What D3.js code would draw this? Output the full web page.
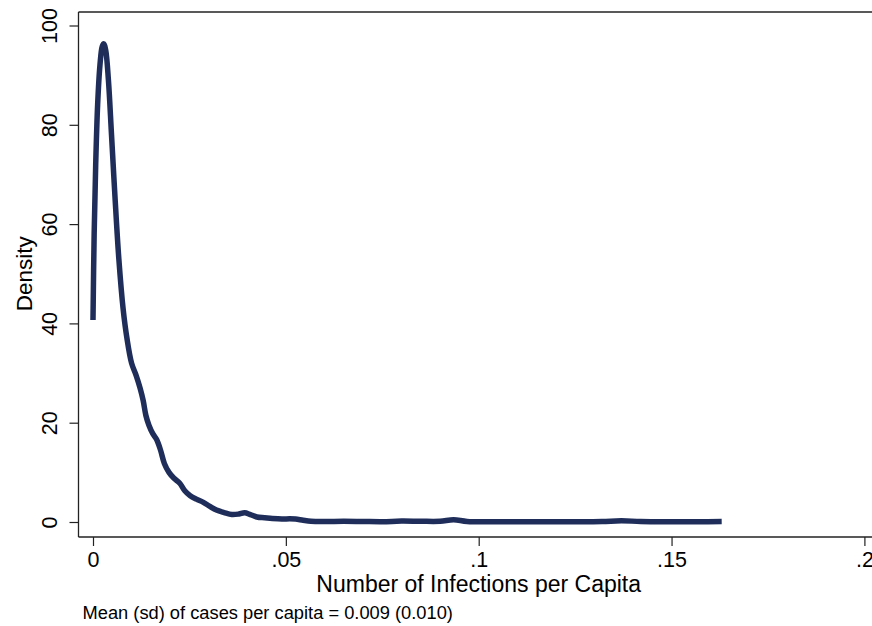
<!DOCTYPE html>
<html>
<head>
<meta charset="utf-8">
<script src="https://d3js.org/d3.v7.min.js"></script>
<style>
  body { margin: 0; background: #fff; }
  svg { display: block; font-family: "Liberation Sans", Arial, sans-serif; }
</style>
</head>
<body>
<script>
// kernel density of infections per capita
const perCapita = [0, 0.0003, 0.0007, 0.0012, 0.0018, 0.0024, 0.0028, 0.0033, 0.0040, 0.0048,
  0.0057, 0.0067, 0.0078, 0.0088, 0.0100, 0.0112, 0.0122, 0.0130, 0.0137, 0.0145,
  0.0155, 0.0165, 0.0175, 0.0185, 0.0197, 0.0210, 0.0225, 0.0238, 0.0252, 0.0268,
  0.0285, 0.0302, 0.0320, 0.0340, 0.0360, 0.0378, 0.0393, 0.0408, 0.0425, 0.0445,
  0.0465, 0.0490, 0.0510, 0.0525, 0.0545, 0.0565, 0.060, 0.065, 0.070, 0.075,
  0.080, 0.085, 0.090, 0.0935, 0.097, 0.105, 0.115, 0.125, 0.132, 0.137,
  0.142, 0.150, 0.157, 0.163];
const density = [40.7, 58, 72, 84, 92, 95.8, 96.3, 95, 89, 78,
  65.5, 53, 43, 37, 32, 29.5, 27, 24.5, 21.5, 19.5,
  17.8, 16.6, 14.5, 11.8, 10.0, 8.8, 7.8, 6.3, 5.3, 4.6,
  4.0, 3.2, 2.4, 1.9, 1.5, 1.6, 1.85, 1.5, 1.0, 0.85,
  0.7, 0.6, 0.65, 0.6, 0.35, 0.15, 0.1, 0.15, 0.1, 0.05,
  0.2, 0.15, 0.15, 0.45, 0.1, 0.05, 0.05, 0.05, 0.1, 0.25,
  0.1, 0.05, 0.05, 0.1];

const xTicks = [0, 0.05, 0.1, 0.15, 0.2];
const yTicks = [0, 20, 40, 60, 80, 100];

const xTitle = "Number of Infections per Capita";
const yTitle = "Density";
const note = "Mean (sd) of cases per capita = 0.009 (0.010)";

let w = 872;
let h = 626;

// plot frame
let frameLeft = 78.5, frameTop = 12, frameBottom = 537;

let x = d3.scaleLinear()
          .domain([0, 0.2])
          .range([93, 864.4]);

let y = d3.scaleLinear()
          .domain([0, 100])
          .range([522, 25.5]);

let svg = d3.select("body")
            .append("svg")
            .attr("width", w)
            .attr("height", h);

//frame lines (no right border in the figure)
svg.append("line")
   .attr("x1", frameLeft).attr("x2", w + 2)
   .attr("y1", frameTop).attr("y2", frameTop)
   .attr("stroke", "#222").attr("stroke-width", 1.3);
svg.append("line")
   .attr("x1", frameLeft).attr("x2", frameLeft)
   .attr("y1", frameTop).attr("y2", frameBottom)
   .attr("stroke", "#222").attr("stroke-width", 1.3);
svg.append("line")
   .attr("x1", frameLeft).attr("x2", w + 2)
   .attr("y1", frameBottom).attr("y2", frameBottom)
   .attr("stroke", "#222").attr("stroke-width", 1.3);

let fmtX = d => d === 0 ? "0" : d3.format(".2~f")(d).replace(/^0/, "");

let xAxis = svg.append("g")
               .attr("transform", `translate(0,${frameBottom})`)
               .call(d3.axisBottom(x).tickValues(xTicks).tickFormat(fmtX).tickSize(9));
xAxis.select(".domain").remove();
xAxis.selectAll("line").attr("stroke", "#222").attr("stroke-width", 1.2);
xAxis.selectAll("text")
     .attr("y", 30).attr("dy", 0)
     .attr("fill", "#000")
     .style("font-size", "21.5px");

let yAxis = svg.append("g")
               .attr("transform", `translate(${frameLeft},0)`)
               .call(d3.axisLeft(y).tickValues(yTicks).tickSize(9));
yAxis.select(".domain").remove();
yAxis.selectAll("line").attr("stroke", "#222").attr("stroke-width", 1.2);
yAxis.selectAll("text")
     .attr("x", 0).attr("y", 0).attr("dy", 0)
     .attr("text-anchor", "middle")
     .attr("transform", "translate(-21.5,0) rotate(-90)")
     .attr("fill", "#000")
     .style("font-size", "21.5px");

//density curve
let line = d3.line()
             .x((d, i) => x(perCapita[i]))
             .y(d => y(d))
             .curve(d3.curveCatmullRom.alpha(0.5));

svg.append("path")
   .datum(density)
   .attr("d", line)
   .attr("fill", "none")
   .attr("stroke", "#1e2d5a")
   .attr("stroke-width", 5.5)
   .attr("stroke-linejoin", "round");

//titles
svg.append("text")
   .attr("x", (x(0) + x(0.2)) / 2)
   .attr("y", 592)
   .attr("text-anchor", "middle")
   .style("font-size", "23px")
   .text(xTitle);

svg.append("text")
   .attr("transform", `translate(31.7,${(y(0) + y(100)) / 2}) rotate(-90)`)
   .attr("text-anchor", "middle")
   .style("font-size", "22.5px")
   .text(yTitle);

svg.append("text")
   .attr("x", 82.5)
   .attr("y", 619)
   .style("font-size", "18.3px")
   .text(note);
</script>
</body>
</html>
